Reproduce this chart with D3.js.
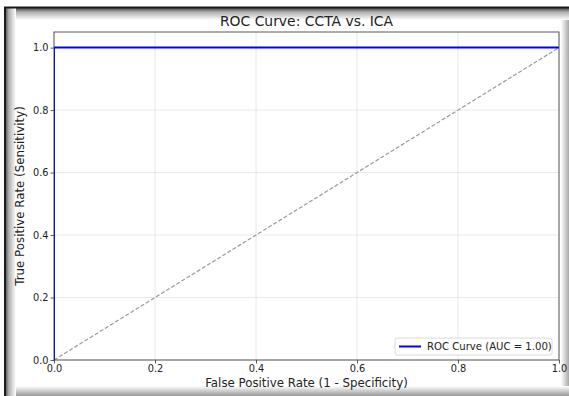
<!DOCTYPE html>
<html>
<head>
<meta charset="utf-8">
<script src="https://cdn.jsdelivr.net/npm/d3@7"></script>
<style>
  body { margin: 0; background: #fff; }
  svg text { font-family: "DejaVu Sans", sans-serif; fill: #222; }
</style>
</head>
<body>
<div id="chart"></div>
<script>
// ROC points
var fpr = [0.0, 0.0, 1.0];
var tpr = [0.0, 1.0, 1.0];
// chance diagonal
var chanceX = [0.0, 1.0];
var chanceY = [0.0, 1.0];
var xTicks = [0.0, 0.2, 0.4, 0.6, 0.8, 1.0];
var yTicks = [0.0, 0.2, 0.4, 0.6, 0.8, 1.0];
var xTickLabels = ["0.0", "0.2", "0.4", "0.6", "0.8", "1.0"];
var yTickLabels = ["0.0", "0.2", "0.4", "0.6", "0.8", "1.0"];
var legendLabel = "ROC Curve (AUC = 1.00)";

var W = 569, H = 396;
var margin = {top: 32, right: 10, bottom: 36, left: 54},
    width = 559 - margin.left,
    height = 360 - margin.top;

var svg = d3.select("#chart")
  .append("svg")
    .attr("width", W)
    .attr("height", H);

var defs = svg.append("defs");
function grad(id, x1, y1, x2, y2, stops) {
  var g = defs.append("linearGradient").attr("id", id)
    .attr("x1", x1).attr("y1", y1).attr("x2", x2).attr("y2", y2);
  stops.forEach(function(s) {
    g.append("stop").attr("offset", s[0]).attr("stop-color", s[1]);
  });
}
grad("shTop", 0, 0, 0, 1, [[0, "#4a4a4a"], [0.35, "#b0b0b0"], [1, "#ffffff"]]);
grad("shLeft", 0, 0, 1, 0, [[0, "#4a4a4a"], [0.35, "#b0b0b0"], [1, "#ffffff"]]);
grad("shRight", 0, 0, 1, 0, [[0, "#ffffff"], [1, "#a8a8a8"]]);
grad("shBottom", 0, 0, 0, 1, [[0, "#ffffff"], [1, "#999999"]]);

// frame shadow around the screenshot
svg.append("rect").attr("x", 5).attr("y", 8).attr("width", W - 5).attr("height", 12).attr("fill", "url(#shTop)");
svg.append("rect").attr("x", 5).attr("y", 8).attr("width", 11).attr("height", H - 8).attr("fill", "url(#shLeft)");
svg.append("rect").attr("x", 561).attr("y", 20).attr("width", 8).attr("height", H - 20).attr("fill", "url(#shRight)");
svg.append("rect").attr("x", 16).attr("y", 386).attr("width", W - 16).attr("height", 10).attr("fill", "url(#shBottom)");
svg.append("line").attr("x1", 4).attr("x2", W).attr("y1", 7.5).attr("y2", 7.5).attr("stroke", "#1a1a1a").attr("stroke-width", 2);
svg.append("line").attr("x1", 5).attr("x2", 5).attr("y1", 7).attr("y2", H).attr("stroke", "#1a1a1a").attr("stroke-width", 2);

var g = svg.append("g")
    .attr("transform", "translate(" + margin.left + "," + margin.top + ")");

var x = d3.scaleLinear().domain([0, 1]).range([0, width]);
var y = d3.scaleLinear().domain([0, 1.05]).range([height, 0]);

// grid
g.append("g").selectAll("line").data(xTicks).enter().append("line")
  .attr("x1", function(d) { return x(d); }).attr("x2", function(d) { return x(d); })
  .attr("y1", 0).attr("y2", height)
  .attr("stroke", "#e2e2e2").attr("stroke-width", 0.8);
g.append("g").selectAll("line").data(yTicks).enter().append("line")
  .attr("x1", 0).attr("x2", width)
  .attr("y1", function(d) { return y(d); }).attr("y2", function(d) { return y(d); })
  .attr("stroke", "#e2e2e2").attr("stroke-width", 0.8);

// chance line
var chance = chanceX.map(function(d, i) { return [d, chanceY[i]]; });
g.append("path")
  .datum(chance)
  .attr("d", d3.line().x(function(d) { return x(d[0]); }).y(function(d) { return y(d[1]); }))
  .attr("fill", "none")
  .attr("stroke", "#999")
  .attr("stroke-width", 1.2)
  .attr("stroke-dasharray", "4,2");

// ROC curve (clipped to axes)
defs.append("clipPath").attr("id", "plotClip")
  .append("rect").attr("width", width).attr("height", height);
var roc = fpr.map(function(d, i) { return [d, tpr[i]]; });
g.append("path")
  .datum(roc)
  .attr("clip-path", "url(#plotClip)")
  .attr("d", d3.line().x(function(d) { return x(d[0]); }).y(function(d) { return y(d[1]); }))
  .attr("fill", "none")
  .attr("stroke", "#0000ff")
  .attr("stroke-width", 2);

// axes
var xAxis = g.append("g")
  .attr("transform", "translate(0," + height + ")")
  .call(d3.axisBottom(x).tickValues(xTicks).tickSize(3.5).tickPadding(2)
    .tickFormat(function(d, i) { return xTickLabels[i]; }));
var yAxis = g.append("g")
  .call(d3.axisLeft(y).tickValues(yTicks).tickSize(3.5).tickPadding(2)
    .tickFormat(function(d, i) { return yTickLabels[i]; }));
[xAxis, yAxis].forEach(function(a) {
  a.select(".domain").remove();
  a.selectAll("line").attr("stroke", "#333").attr("stroke-width", 0.8);
  a.selectAll("text").style("font-family", "DejaVu Sans").style("font-size", "9.8px").attr("fill", "#222");
});

// spines
g.append("rect")
  .attr("width", width).attr("height", height)
  .attr("fill", "none").attr("stroke", "#333").attr("stroke-width", 0.8);

// title and labels
svg.append("text")
  .attr("x", margin.left + width / 2).attr("y", 26)
  .attr("text-anchor", "middle")
  .style("font-size", "13.9px")
  .text("ROC Curve: CCTA vs. ICA");
svg.append("text")
  .attr("x", margin.left + width / 2).attr("y", 387)
  .attr("text-anchor", "middle")
  .style("font-size", "11.8px")
  .text("False Positive Rate (1 - Specificity)");
svg.append("text")
  .attr("transform", "translate(24," + (margin.top + height / 2) + ")rotate(-90)")
  .attr("text-anchor", "middle")
  .style("font-size", "11.8px")
  .text("True Positive Rate (Sensitivity)");

// legend
var lg = g.append("g").attr("transform", "translate(" + (width - 164) + "," + (height - 22) + ")");
lg.append("rect")
  .attr("width", 157).attr("height", 17).attr("rx", 2.5)
  .attr("fill", "#fff").attr("fill-opacity", 0.8)
  .attr("stroke", "#d0d0d0").attr("stroke-width", 0.8);
lg.append("line")
  .attr("x1", 4).attr("x2", 26).attr("y1", 8.5).attr("y2", 8.5)
  .attr("stroke", "#0000ff").attr("stroke-width", 2);
lg.append("text")
  .attr("x", 32).attr("y", 12)
  .style("font-size", "10.1px")
  .text(legendLabel);
</script>
</body>
</html>
